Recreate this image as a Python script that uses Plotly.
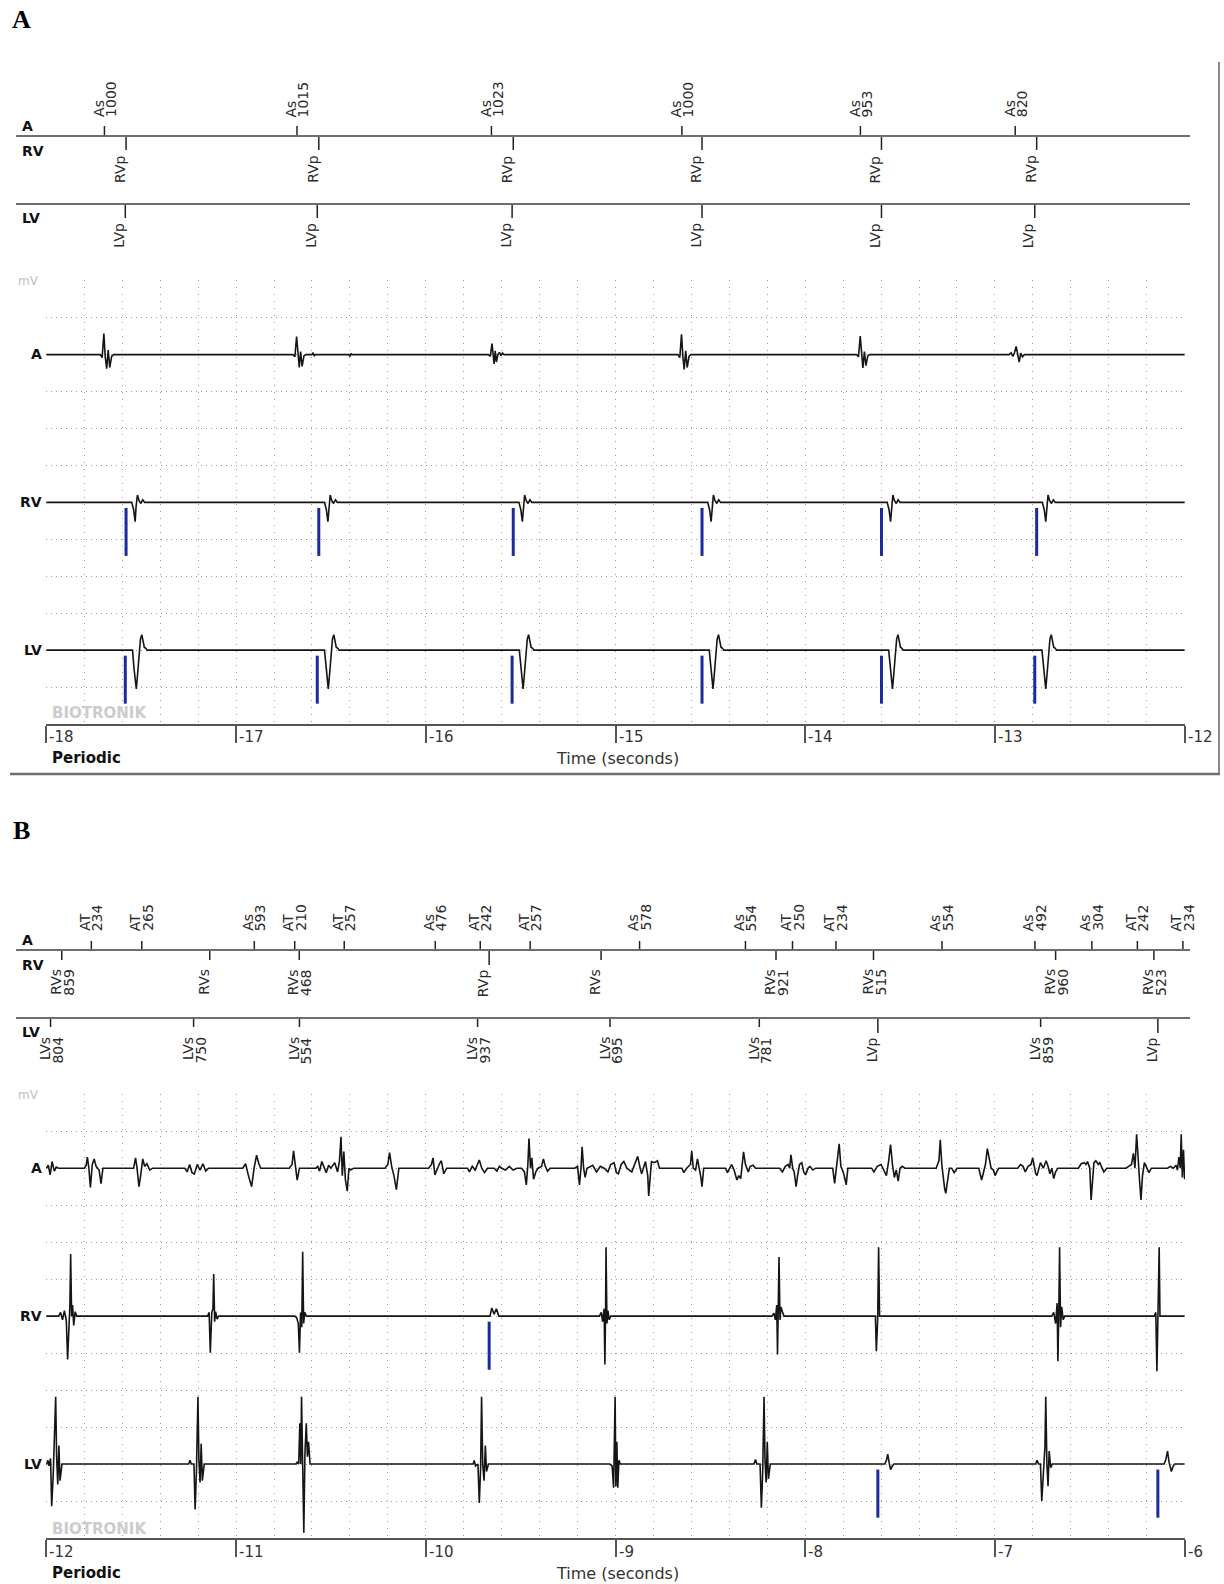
import plotly.graph_objects as go

# ====================== DATA ======================
# ---- Panel A : marker channel (time in seconds) ----
A_as_t = [-17.694, -16.679, -15.654, -14.650, -13.709, -12.893]
A_as_val = ["1000", "1015", "1023", "1000", "953", "820"]
A_rvp_t = [-17.580, -16.564, -15.539, -14.544, -13.598, -12.780]
A_lvp_t = [-17.584, -16.572, -15.545, -14.544, -13.598, -12.790]
A_ticks = [-18, -17, -16, -15, -14, -13, -12]

# ---- Panel B : marker channel ----
B_a_t = [-11.763, -11.497, -10.904, -10.691, -10.430, -9.950, -9.713, -9.450, -8.873,
         -8.315, -8.067, -7.838, -7.279, -6.789, -6.489, -6.249, -6.009]
B_a_kind = ["AT", "AT", "As", "AT", "AT", "As", "AT", "AT", "As",
            "As", "AT", "AT", "As", "As", "As", "AT", "AT"]
B_a_val = ["234", "265", "593", "210", "257", "476", "242", "257", "578",
           "554", "250", "234", "554", "492", "304", "242", "234"]
B_rv_t = [-11.919, -11.139, -10.667, -9.666, -9.076, -8.154, -7.640, -6.680, -6.162]
B_rv_kind = ["RVs", "RVs", "RVs", "RVp", "RVs", "RVs", "RVs", "RVs", "RVs"]
B_rv_val = ["859", "", "468", "", "", "921", "515", "960", "523"]
B_lv_t = [-11.978, -11.224, -10.666, -9.727, -9.029, -8.242, -7.617, -6.759, -6.141]
B_lv_kind = ["LVs", "LVs", "LVs", "LVs", "LVs", "LVs", "LVp", "LVs", "LVp"]
B_lv_val = ["804", "750", "554", "937", "695", "781", "", "859", ""]
B_ticks = [-12, -11, -10, -9, -8, -7, -6]

# ---- Panel A : EGM traces, (time s, amplitude in grid divisions) ----
A_egm_A = [
    (-17.716, 0), (-17.706, -0.08), (-17.697, 0.57), (-17.690, -0.05), (-17.682, -0.38),
    (-17.674, 0.12), (-17.666, -0.35), (-17.656, -0.05), (-17.646, 0),
    (-16.700, 0), (-16.690, -0.06), (-16.681, 0.49), (-16.674, -0.05), (-16.667, -0.35),
    (-16.660, 0.08), (-16.652, -0.32), (-16.642, -0.03), (-16.632, 0), (-16.600, 0),
    (-16.594, 0.05), (-16.588, -0.04), (-16.582, 0), (-16.405, 0), (-16.400, -0.05),
    (-16.395, 0.03), (-16.390, 0),
    (-15.670, 0), (-15.660, -0.05), (-15.651, 0.30), (-15.645, -0.05), (-15.640, -0.25),
    (-15.634, 0.10), (-15.628, -0.20), (-15.620, 0.0), (-15.612, 0.06), (-15.604, -0.03),
    (-15.596, 0.04), (-15.588, 0),
    (-14.671, 0), (-14.661, -0.08), (-14.652, 0.55), (-14.645, -0.05), (-14.638, -0.40),
    (-14.630, 0.10), (-14.622, -0.35), (-14.612, -0.04), (-14.602, 0),
    (-13.729, 0), (-13.719, -0.06), (-13.710, 0.50), (-13.703, -0.05), (-13.696, -0.36),
    (-13.688, 0.08), (-13.680, -0.30), (-13.670, -0.03), (-13.660, 0),
    (-12.925, 0), (-12.915, 0.05), (-12.905, -0.05), (-12.897, 0.05), (-12.888, 0.22),
    (-12.880, -0.05), (-12.872, -0.20), (-12.864, 0.04), (-12.855, -0.06), (-12.845, 0),
]
# paced ventricular morphology (delay after pace s, amplitude), identical for every paced beat
A_rv_dt = [0.030, 0.040, 0.048, 0.053, 0.060, 0.068, 0.078, 0.088, 0.098]
A_rv_amp = [0, -0.20, -0.52, -0.10, 0.20, 0.05, -0.03, 0.07, 0]
A_lv_dt = [0.038, 0.046, 0.058, 0.064, 0.072, 0.080, 0.087, 0.094, 0.100, 0.108, 0.115]
A_lv_amp = [0, -0.50, -1.05, -0.70, -0.20, 0.30, 0.42, 0.20, 0.08, 0.05, 0]

# ---- Panel B : EGM traces ----
B_egm_A = [
    (-12.000, 0), (-11.990, 0.08), (-11.980, -0.18), (-11.970, 0.18), (-11.958, -0.08),
    (-11.948, 0.03), (-11.935, 0), (-11.800, 0), (-11.790, 0.08), (-11.784, 0.30),
    (-11.776, 0.0), (-11.768, -0.52), (-11.758, 0.10), (-11.748, 0.25), (-11.738, 0.05),
    (-11.722, -0.05), (-11.712, -0.42), (-11.702, 0.0), (-11.540, 0), (-11.530, 0.28),
    (-11.522, 0.0), (-11.512, -0.50), (-11.503, -0.2), (-11.492, 0.25), (-11.482, 0.05),
    (-11.470, 0.12), (-11.455, -0.05), (-11.440, 0), (-11.270, 0), (-11.258, -0.1),
    (-11.245, 0.1), (-11.232, -0.12), (-11.220, -0.16), (-11.205, 0.1), (-11.190, -0.05),
    (-11.175, 0.12), (-11.160, -0.08), (-11.145, 0), (-10.965, 0), (-10.950, 0.12),
    (-10.935, -0.2), (-10.918, -0.5), (-10.905, 0.0), (-10.892, 0.35), (-10.880, 0.12),
    (-10.870, 0), (-10.720, 0), (-10.705, 0.1), (-10.697, 0.47), (-10.688, 0.05),
    (-10.678, -0.32), (-10.666, 0), (-10.580, 0), (-10.570, 0.05), (-10.560, -0.08),
    (-10.548, 0.18), (-10.538, 0.05), (-10.525, -0.12), (-10.512, 0.08), (-10.500, 0.0),
    (-10.480, 0.15), (-10.465, -0.1), (-10.455, 0.2), (-10.447, 0.85), (-10.440, -0.2),
    (-10.432, 0.45), (-10.424, -0.3), (-10.414, -0.62), (-10.405, 0.0), (-10.395, -0.05),
    (-10.380, 0), (-10.215, 0), (-10.200, 0.1), (-10.191, 0.42), (-10.180, 0.05),
    (-10.168, -0.2), (-10.155, -0.58), (-10.142, 0.0), (-10.130, 0), (-9.985, 0),
    (-9.970, 0.1), (-9.962, 0.28), (-9.952, -0.18), (-9.940, 0.0), (-9.928, 0.12),
    (-9.918, 0.2), (-9.905, -0.15), (-9.890, 0), (-9.780, 0), (-9.770, -0.1),
    (-9.755, 0.05), (-9.740, -0.05), (-9.727, 0.1), (-9.718, 0.22), (-9.705, 0.0),
    (-9.690, -0.12), (-9.675, 0.0), (-9.640, 0), (-9.625, -0.08), (-9.612, 0.05),
    (-9.600, 0.0), (-9.580, -0.05), (-9.560, 0.05), (-9.540, -0.05), (-9.520, 0.0),
    (-9.495, 0), (-9.480, -0.1), (-9.470, -0.45), (-9.462, 0.1), (-9.456, 0.80),
    (-9.448, 0.0), (-9.441, 0.28), (-9.432, -0.3), (-9.420, -0.1), (-9.408, 0),
    (-9.390, 0.05), (-9.380, 0.25), (-9.370, 0.05), (-9.358, -0.08), (-9.345, 0),
    (-9.215, 0), (-9.200, 0.05), (-9.190, -0.45), (-9.182, 0.0), (-9.176, 0.58),
    (-9.168, 0.0), (-9.160, -0.25), (-9.150, 0.0), (-9.120, 0.08), (-9.100, -0.1),
    (-9.080, 0.05), (-9.060, 0), (-9.040, -0.1), (-9.025, 0.1), (-9.008, 0.15),
    (-8.995, -0.12), (-8.985, -0.15), (-8.970, 0.1), (-8.956, 0.18), (-8.940, 0.0),
    (-8.914, -0.1), (-8.900, 0.08), (-8.883, 0.32), (-8.870, 0.0), (-8.862, -0.15),
    (-8.850, 0.05), (-8.842, 0.18), (-8.830, -0.2), (-8.825, -0.75), (-8.815, -0.1),
    (-8.810, 0.18), (-8.795, 0.15), (-8.779, 0.2), (-8.768, 0.0), (-8.650, 0),
    (-8.640, -0.12), (-8.625, 0.0), (-8.605, 0.1), (-8.598, 0.46), (-8.590, 0.0),
    (-8.578, -0.05), (-8.568, 0.25), (-8.558, 0.0), (-8.550, -0.25), (-8.544, -0.5),
    (-8.535, 0.0), (-8.420, 0), (-8.410, -0.12), (-8.398, 0.0), (-8.388, 0.1),
    (-8.375, -0.05), (-8.360, -0.32), (-8.350, -0.2), (-8.340, -0.28), (-8.332, 0.1),
    (-8.325, 0.44), (-8.315, 0.1), (-8.300, -0.1), (-8.290, 0.05), (-8.275, 0.08),
    (-8.262, 0), (-8.135, 0), (-8.120, -0.1), (-8.105, 0.05), (-8.090, 0.1),
    (-8.082, 0.0), (-8.075, 0.36), (-8.066, 0.0), (-8.058, -0.1), (-8.048, -0.5),
    (-8.040, -0.2), (-8.030, 0.1), (-8.018, 0.15), (-8.008, -0.1), (-7.998, -0.18),
    (-7.985, 0.0), (-7.975, 0.05), (-7.960, -0.05), (-7.945, 0), (-7.855, 0),
    (-7.845, -0.41), (-7.835, 0.0), (-7.828, 0.3), (-7.821, 0.66), (-7.812, 0.05),
    (-7.800, -0.1), (-7.790, -0.3), (-7.784, -0.45), (-7.775, 0.0), (-7.650, 0),
    (-7.638, -0.1), (-7.620, 0.05), (-7.600, 0.1), (-7.585, -0.05), (-7.572, -0.2),
    (-7.560, 0.2), (-7.550, 0.64), (-7.540, 0.1), (-7.530, -0.25), (-7.520, -0.05),
    (-7.510, -0.35), (-7.500, 0.0), (-7.488, 0.05), (-7.475, 0), (-7.310, 0),
    (-7.295, 0.2), (-7.288, 0.77), (-7.280, 0.1), (-7.273, -0.3), (-7.265, -0.55),
    (-7.259, -0.68), (-7.250, -0.3), (-7.240, 0.0), (-7.228, 0.0), (-7.215, -0.12),
    (-7.200, 0), (-7.085, 0), (-7.070, -0.32), (-7.060, -0.1), (-7.050, 0.1),
    (-7.040, 0.53), (-7.030, 0.3), (-7.020, 0.0), (-7.008, -0.05), (-6.999, -0.2),
    (-6.990, -0.1), (-6.980, 0), (-6.880, 0), (-6.865, 0.1), (-6.852, 0.05),
    (-6.840, -0.1), (-6.825, 0.05), (-6.810, 0.1), (-6.801, 0.28), (-6.792, 0.0),
    (-6.785, -0.15), (-6.778, -0.2), (-6.770, 0.0), (-6.760, 0.15), (-6.745, 0.0),
    (-6.730, 0.2), (-6.720, 0.05), (-6.710, -0.15), (-6.700, 0.0), (-6.690, -0.28),
    (-6.680, -0.1), (-6.668, 0), (-6.560, 0), (-6.545, 0.12), (-6.530, 0.15),
    (-6.520, 0.1), (-6.512, 0.18), (-6.500, 0.0), (-6.493, -0.86), (-6.485, -0.3),
    (-6.478, 0.15), (-6.468, 0.2), (-6.455, 0.1), (-6.447, 0.15), (-6.436, 0.0),
    (-6.426, -0.1), (-6.410, 0), (-6.310, 0), (-6.295, 0.05), (-6.280, 0.1),
    (-6.270, 0.4), (-6.262, 0.0), (-6.253, 0.92), (-6.245, 0.1), (-6.238, -0.3),
    (-6.230, -0.86), (-6.222, -0.2), (-6.212, 0.15), (-6.200, 0.0), (-6.188, -0.12),
    (-6.175, 0), (-6.090, 0), (-6.075, 0.05), (-6.060, 0.0), (-6.045, 0.08),
    (-6.038, -0.05), (-6.030, 0.3), (-6.023, 0.0), (-6.018, 0.92), (-6.012, -0.25),
    (-6.006, 0.5), (-6.000, -0.3),
]
B_egm_RV = [
    (-11.935, 0), (-11.925, 0.1), (-11.915, -0.1), (-11.905, 0.15), (-11.895, -0.12),
    (-11.888, -1.17), (-11.882, -0.2), (-11.876, 0.3), (-11.872, 1.68), (-11.867, 0.0),
    (-11.862, 0.3), (-11.856, -0.25), (-11.848, 0.12), (-11.840, 0),
    (-11.150, 0), (-11.142, 0.1), (-11.136, -0.99), (-11.128, 0.1), (-11.122, 0.2),
    (-11.118, 1.14), (-11.113, -0.15), (-11.108, 0.12), (-11.100, -0.08), (-11.092, 0),
    (-10.690, 0), (-10.680, -0.05), (-10.672, -0.2), (-10.666, -0.99), (-10.660, 0.1),
    (-10.654, -0.3), (-10.649, 1.74), (-10.644, -0.2), (-10.638, 0.1), (-10.630, 0),
    (-9.662, 0), (-9.652, 0.22), (-9.640, 0.05), (-9.628, 0.2), (-9.615, 0.0),
    (-9.085, 0), (-9.075, 0.1), (-9.068, -0.15), (-9.060, 0.2), (-9.056, -1.31),
    (-9.052, 0.3), (-9.050, 1.86), (-9.045, -0.2), (-9.040, 0.15), (-9.033, -0.1),
    (-9.025, 0),
    (-8.175, 0), (-8.165, 0.08), (-8.157, -0.1), (-8.150, 0.3), (-8.146, -1.04),
    (-8.141, 0.2), (-8.138, 1.6), (-8.133, -0.1), (-8.128, 0.25), (-8.120, 0.12),
    (-8.112, 0),
    (-7.630, 0), (-7.625, -0.95), (-7.618, -0.1), (-7.613, 1.86), (-7.608, 0.0),
    (-6.700, 0), (-6.690, 0.1), (-6.680, -0.2), (-6.672, 0.35), (-6.668, -1.22),
    (-6.663, 0.2), (-6.659, 1.86), (-6.654, -0.3), (-6.648, 0.25), (-6.640, -0.1),
    (-6.632, 0),
    (-6.160, 0), (-6.152, 0.1), (-6.146, -1.49), (-6.140, 0.0), (-6.134, 1.86),
    (-6.130, 0.0),
]
B_egm_LV = [
    (-11.998, 0), (-11.992, 0.1), (-11.986, -0.05), (-11.978, 0.15), (-11.972, -1.14),
    (-11.964, -0.3), (-11.958, 0.6), (-11.951, 1.82), (-11.946, 0.2), (-11.940, -0.55),
    (-11.934, 0.5), (-11.928, -0.45), (-11.918, 0),
    (-11.250, 0), (-11.243, 0.1), (-11.236, 0), (-11.222, 0), (-11.216, -1.23),
    (-11.209, -0.2), (-11.205, 0.6), (-11.201, 1.82), (-11.196, 0.1), (-11.190, -0.5),
    (-11.184, 0.55), (-11.178, -0.45), (-11.168, 0),
    (-10.685, 0), (-10.678, 0.05), (-10.670, 0.0), (-10.664, 1.1), (-10.659, 0.0),
    (-10.655, 1.82), (-10.649, -0.5), (-10.643, -1.86), (-10.637, 0.3), (-10.630, 1.1),
    (-10.624, 0.2), (-10.618, 0.6), (-10.610, 0.0), (-10.601, 0),
    (-9.750, 0), (-9.745, 0.1), (-9.738, -0.05), (-9.725, 0), (-9.718, -1.05),
    (-9.711, -0.1), (-9.706, 1.82), (-9.700, 0.0), (-9.693, -0.45), (-9.686, 0.5),
    (-9.680, -0.2), (-9.670, 0),
    (-9.030, 0), (-9.018, -0.05), (-9.010, -0.64), (-9.006, 0.6), (-9.002, 1.82),
    (-8.998, -0.6), (-8.993, 0.6), (-8.988, -0.64), (-8.982, 0.1), (-8.975, 0),
    (-8.270, 0), (-8.262, 0.12), (-8.255, 0.0), (-8.238, 0), (-8.231, -1.18),
    (-8.224, -0.2), (-8.220, 0.6), (-8.217, 1.82), (-8.212, 0.1), (-8.206, -0.5),
    (-8.200, 0.6), (-8.194, -0.4), (-8.184, 0),
    (-7.580, 0), (-7.572, 0.1), (-7.565, 0.27), (-7.558, 0.05), (-7.550, -0.15),
    (-7.540, -0.05), (-7.532, 0),
    (-6.785, 0), (-6.778, 0.1), (-6.770, 0.0), (-6.760, 0), (-6.753, -1.0),
    (-6.745, -0.1), (-6.736, 0.5), (-6.732, 1.82), (-6.726, 0.0), (-6.720, -0.6),
    (-6.714, 0.35), (-6.706, -0.1), (-6.698, 0),
    (-6.108, 0), (-6.100, 0.1), (-6.090, 0.35), (-6.082, 0.05), (-6.070, -0.2),
    (-6.060, -0.05), (-6.052, 0),
]
PACE_SPIKE = (-0.15, -1.45)   # extent of the blue pacing spike below the baseline

# ====================== LAYOUT HELPERS ======================
FIG_W, FIG_H = 1224, 1584


def px(x):
    return x / FIG_W


def py(y):
    return 1 - y / FIG_H


X_LEFT, X_RIGHT = 46, 1185
CH_BASE = {"A": -2, "RV": -6, "LV": -10}
INK = "#151515"
GRID = "#9c9c9c"
BLUE = "#1b2a9c"
FONT = "DejaVu Sans"

panels = {
    "A": dict(xa="x", ya="y", rng=(-18, -12), top=280, bot=724, l1=136, l2=204,
              title_y=19, periodic_y=758, tick_lab_y=737, bio_y=713),
    "B": dict(xa="x2", ya="y2", rng=(-12, -6), top=1093.5, bot=1538, l1=950, l2=1018,
              title_y=830, periodic_y=1573, tick_lab_y=1552, bio_y=1529),
}

fig = go.Figure()
shapes, annos = [], []


def add_egm(points, xa, ya, base, rng):
    xs = [rng[0]] + [p[0] for p in points]
    ys = [base] + [base + p[1] for p in points]
    if xs[-1] < rng[1]:
        xs.append(rng[1])
        ys.append(base)
    fig.add_trace(go.Scatter(x=xs, y=ys, xaxis=xa, yaxis=ya, mode="lines",
                             line=dict(color=INK, width=1.6), hoverinfo="skip",
                             showlegend=False))


def add_beats(times, dts, amps, xa, ya, base, rng):
    pts = []
    for t in times:
        pts += [(t + d, a) for d, a in zip(dts, amps)]
    add_egm(pts, xa, ya, base, rng)


def add_spikes(times, xa, ya, base):
    xs, ys = [], []
    for t in times:
        xs += [t, t, None]
        ys += [base + PACE_SPIKE[0], base + PACE_SPIKE[1], None]
    fig.add_trace(go.Scatter(x=xs, y=ys, xaxis=xa, yaxis=ya, mode="lines",
                             line=dict(color=BLUE, width=3), hoverinfo="skip",
                             showlegend=False))


def vtick(t, xref, y0, y1):
    shapes.append(dict(type="line", xref=xref, yref="paper", x0=t, x1=t,
                       y0=py(y0), y1=py(y1), line=dict(color="#222", width=1.5)))


def vlabel(text, t, xref, y, shift, anchor):
    annos.append(dict(text=text, x=t, xref=xref, y=py(y), yref="paper", xshift=shift,
                      xanchor="center", yanchor=anchor, textangle=-90, showarrow=False,
                      font=dict(family=FONT, size=14, color="#2a2a2a"), borderpad=0))


def label(text, x, y, size=13, bold=False, color="#111", xanchor="left", family=FONT):
    annos.append(dict(text=f"<b>{text}</b>" if bold else text, x=px(x), y=py(y),
                      xref="paper", yref="paper", xanchor=xanchor, yanchor="middle",
                      showarrow=False, font=dict(family=family, size=size, color=color)))


# ====================== PANEL A ======================
P = panels["A"]
add_egm(A_egm_A, P["xa"], P["ya"], CH_BASE["A"], P["rng"])
add_beats(A_rvp_t, A_rv_dt, A_rv_amp, P["xa"], P["ya"], CH_BASE["RV"], P["rng"])
add_beats(A_lvp_t, A_lv_dt, A_lv_amp, P["xa"], P["ya"], CH_BASE["LV"], P["rng"])
add_spikes(A_rvp_t, P["xa"], P["ya"], CH_BASE["RV"])
add_spikes(A_lvp_t, P["xa"], P["ya"], CH_BASE["LV"])
for t, v in zip(A_as_t, A_as_val):
    vtick(t, "x", P["l1"] - 10, P["l1"])
    vlabel("As", t, "x", P["l1"] - 18, -6, "bottom")
    vlabel(v, t, "x", P["l1"] - 18, 6.5, "bottom")
for t in A_rvp_t:
    vtick(t, "x", P["l1"], P["l1"] + 14)
    vlabel("RVp", t, "x", P["l1"] + 18, -6, "top")
for t in A_lvp_t:
    vtick(t, "x", P["l2"], P["l2"] + 14)
    vlabel("LVp", t, "x", P["l2"] + 18, -6, "top")

# ====================== PANEL B ======================
P = panels["B"]
add_egm(B_egm_A, P["xa"], P["ya"], CH_BASE["A"], P["rng"])
add_egm(B_egm_RV, P["xa"], P["ya"], CH_BASE["RV"], P["rng"])
add_egm(B_egm_LV, P["xa"], P["ya"], CH_BASE["LV"], P["rng"])
add_spikes([t for t, k in zip(B_rv_t, B_rv_kind) if k.endswith("p")], P["xa"], P["ya"], CH_BASE["RV"])
add_spikes([t for t, k in zip(B_lv_t, B_lv_kind) if k.endswith("p")], P["xa"], P["ya"], CH_BASE["LV"])
for t, k, v in zip(B_a_t, B_a_kind, B_a_val):
    vtick(t, "x2", P["l1"] - 9, P["l1"])
    vlabel(k, t, "x2", P["l1"] - 18, -6, "bottom")
    vlabel(v, t, "x2", P["l1"] - 18, 6.5, "bottom")
for t, k, v in zip(B_rv_t, B_rv_kind, B_rv_val):
    vtick(t, "x2", P["l1"], P["l1"] + (15 if k.endswith("p") else 10))
    vlabel(k, t, "x2", P["l1"] + 18, -6, "top")
    if v:
        vlabel(v, t, "x2", P["l1"] + 18, 6.5, "top")
for t, k, v in zip(B_lv_t, B_lv_kind, B_lv_val):
    vtick(t, "x2", P["l2"], P["l2"] + (15 if k.endswith("p") else 9))
    vlabel(k, t, "x2", P["l2"] + 18, -6, "top")
    if v:
        vlabel(v, t, "x2", P["l2"] + 18, 6.5, "top")

# ====================== COMMON DECORATION ======================
for name, P, ticks in (("A", panels["A"], A_ticks), ("B", panels["B"], B_ticks)):
    # marker channel lines
    for yl in (P["l1"], P["l2"]):
        shapes.append(dict(type="line", xref="paper", yref="paper", x0=px(16), x1=px(1190),
                           y0=py(yl), y1=py(yl), line=dict(color="#6e6e6e", width=2)))
    label(name, 21, P["title_y"], size=26, bold=True, color="#000",
          xanchor="center", family="Liberation Serif")
    label("A", 20, P["l1"] - 10, size=14, bold=True)
    label("RV", 20, P["l1"] + 15, size=14, bold=True)
    label("LV", 20, P["l2"] + 14, size=14, bold=True)
    # EGM labels
    unit = (P["bot"] - P["top"]) / 12
    label("mV", 16, P["top"] + 1, size=12, color="#c0c0c0")
    for ch in ("A", "RV", "LV"):
        label(ch, 44, P["top"] - CH_BASE[ch] * unit, size=14, bold=True, xanchor="right")
    label("BIOTRONIK", 50, P["bio_y"], size=15, bold=True, color="#cccccc")
    for tk in ticks:
        annos.append(dict(text=str(tk), x=tk, xref=P["xa"], y=py(P["tick_lab_y"]),
                          yref="paper", xanchor="left", yanchor="middle", xshift=1,
                          showarrow=False, font=dict(family=FONT, size=15, color="#333")))
    label("Periodic", 50, P["periodic_y"], size=15, bold=True)
    label("Time (seconds)", 617, P["periodic_y"], size=16, color="#333", xanchor="center")

# border of panel A
shapes.append(dict(type="line", xref="paper", yref="paper", x0=px(1219), x1=px(1219),
                   y0=py(62), y1=py(774), line=dict(color="#8a8a8a", width=2)))
shapes.append(dict(type="line", xref="paper", yref="paper", x0=px(10), x1=px(1220),
                   y0=py(774), y1=py(774), line=dict(color="#6e6e6e", width=2.5)))


def xaxis_cfg(P, anchor):
    r0, r1 = P["rng"]
    return dict(domain=[px(X_LEFT), px(X_RIGHT)], range=[r0 - 0.002, r1 + 0.002],
                anchor=anchor, tick0=r0, dtick=1, ticks="outside", ticklen=17,
                tickwidth=1.5, tickcolor="#555", showticklabels=False,
                showline=True, linecolor="#555", linewidth=2, zeroline=False,
                showgrid=True, gridcolor=GRID, griddash="1px,6px", gridwidth=1,
                minor=dict(dtick=0.2, tick0=r0, showgrid=True, gridcolor=GRID,
                           griddash="1px,6px", gridwidth=1, ticks=""),
                fixedrange=True)


def yaxis_cfg(P, anchor):
    return dict(domain=[py(P["bot"]), py(P["top"])], range=[-12, 0.02], anchor=anchor,
                tick0=0, dtick=1, showgrid=True, gridcolor=GRID, griddash="1px,4px",
                gridwidth=1, showticklabels=False, zeroline=False, showline=False,
                ticks="", fixedrange=True)


fig.update_layout(
    width=FIG_W, height=FIG_H, margin=dict(l=0, r=0, t=0, b=0),
    paper_bgcolor="white", plot_bgcolor="white", showlegend=False,
    xaxis=xaxis_cfg(panels["A"], "y"), yaxis=yaxis_cfg(panels["A"], "x"),
    xaxis2=xaxis_cfg(panels["B"], "y2"), yaxis2=yaxis_cfg(panels["B"], "x2"),
    shapes=shapes, annotations=annos,
)

fig.write_html("out.html", config={"displayModeBar": False},
               post_script="document.body.style.margin='0px';"
                           "document.body.style.overflow='hidden';")
